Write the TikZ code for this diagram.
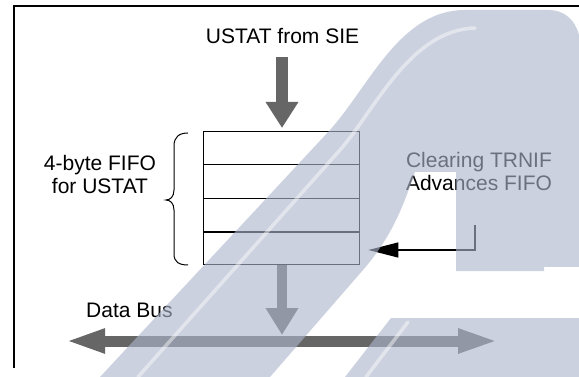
\documentclass[tikz,border=0pt]{standalone}
\usepackage{fontspec}
\setmainfont{Liberation Sans}
\usetikzlibrary{arrows.meta,calc}
\definecolor{arrowgray}{RGB}{102,102,102}
\definecolor{wmblue}{RGB}{174,182,205}
\begin{document}
\begin{tikzpicture}[x=1pt,y=-1pt,
  lbl/.style={font=\fontsize{21}{24}\selectfont, inner sep=0pt, align=center},
  fatarrow/.style={draw=arrowgray, line width=#1},
  thinline/.style={draw=black, line width=1.4pt},
  watermark/.style={fill=wmblue, opacity=0.62},
  shine/.style={draw=white, line width=3.5pt, opacity=0.45, line cap=round}]
\useasboundingbox (0,0) rectangle (579,377);
\fill[white] (0,0) rectangle (579,377);

% frame
\draw[line width=2pt] (13.5,368) -- (13.5,5.7) -- (579,5.7);

% labels
\node[lbl, anchor=base] (ustat) at (282.5,44) {USTAT from SIE};
\node[lbl, anchor=base] (fifolbl) at (100,194) {4-byte FIFO\\for USTAT};
\node[lbl, anchor=base] (clr) at (479,191) {Clearing TRNIF\\Advances FIFO};
\node[lbl, anchor=base west] (bus) at (86,317.7) {Data Bus};

% FIFO box
\node[thinline, minimum width=156pt, minimum height=133pt, inner sep=0pt, anchor=north west] (fifo) at (203,131) {};
\foreach \f in {0.248,0.504,0.752}
  \draw[thinline] ($(fifo.north west)!\f!(fifo.south west)$) -- ($(fifo.north east)!\f!(fifo.south east)$);

% brace
\draw[line width=1pt] (188,133) .. controls (179,133) and (174,137) .. (174,146) -- (174,190)
  .. controls (174,197) and (170,200) .. (166,200) .. controls (170,200) and (174,203) .. (174,210)
  -- (174,254) .. controls (174,262) and (179,265) .. (188,265);

% arrows
\coordinate (inTop) at (282,57);
\coordinate (busC) at (282,335);
\coordinate (busL) at (65,341);
\coordinate (busR) at (499,341);
\coordinate (clrEnd) at (475,225);
\draw[fatarrow=12pt, -{Triangle[length=26pt,width=31pt]}, shorten >=3pt] (inTop) -- (inTop |- fifo.north);
\draw[fatarrow=10pt, -{Triangle[length=27pt,width=31pt]}] (fifo.south -| busC) -- (busC);
\draw[fatarrow=11pt, {Triangle[length=40pt,width=22pt]}-{Triangle[length=41pt,width=22pt]}] (busL) -- (busR);
\draw[thinline, -{Triangle[length=30pt,width=15pt]}, shorten >=8pt] (clrEnd) |- (fifo.east |- 0,250);

% watermark
\fill[watermark] (100,377) -- (330,130) .. controls (370,85) and (400,10) .. (465,10) -- (548,10)
  .. controls (565,10) and (575,20) .. (579,35) -- (579,267) -- (544,267) -- (544,271) -- (456,271)
  -- (456,172) -- (415,172) .. controls (405,200) and (395,233) .. (363,270) -- (270,377) -- cycle;
\fill[watermark] (345,377) -- (391,318) -- (579,318) -- (579,377) -- cycle;
\draw[shine] (138,377) -- (340,150) .. controls (375,110) and (410,30) .. (475,28);
\draw[shine] (366,377) -- (408,322);
\end{tikzpicture}
\end{document}
